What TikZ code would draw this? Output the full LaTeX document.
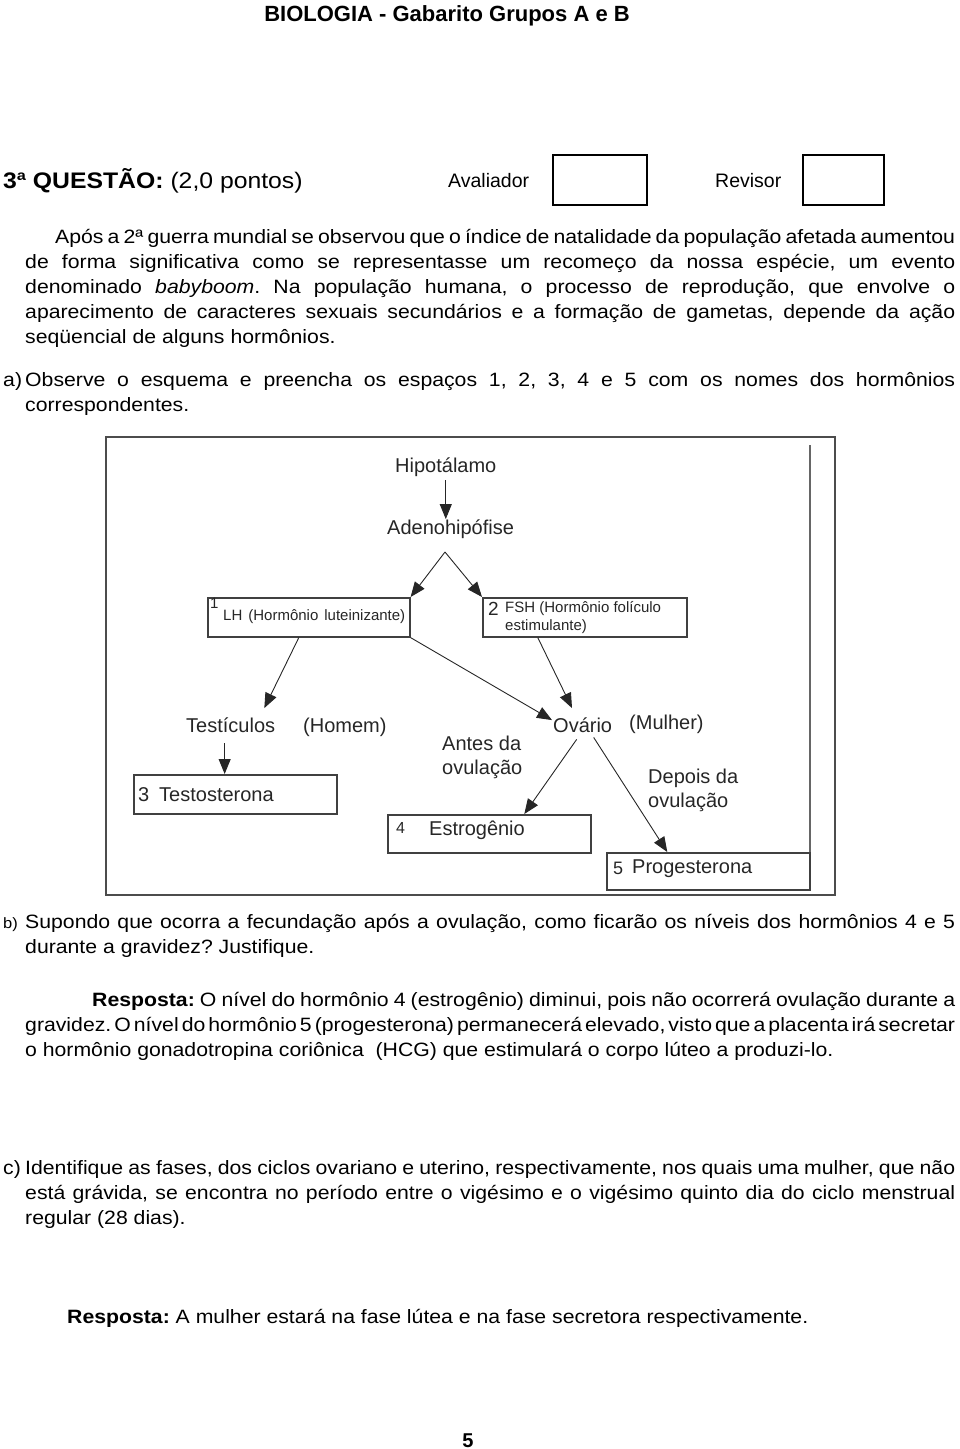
\documentclass[tikz,border=0pt]{standalone}
\usepackage{fontspec}
\setmainfont{Liberation Sans}[FakeStretch=1.1, WordSpace={1,1,2}]
\newfontfamily\plainfont{Liberation Sans}
\usepackage{tikz}
\usetikzlibrary{arrows.meta, positioning}
\tikzstyle{hormarrow} = [line width=0.9pt, black!85, line join=miter, -{Triangle[length=15pt, width=12pt]}]
\tikzstyle{hormbox} = [draw=black!75, line width=1.6pt, inner sep=0pt, anchor=north west]
\tikzstyle{scorebox} = [draw=black, line width=2pt, inner sep=0pt]
\tikzstyle{organ} = [font=\plainfont\fontsize{20}{24}\selectfont, text=black!85, inner sep=0pt, anchor=base west, align=left]
\tikzstyle{small} = [font=\plainfont\fontsize{15}{18}\selectfont, text=black!85, inner sep=0pt, anchor=base west, align=left]
\tikzstyle{para} = [font=\fontsize{19.3}{25}\selectfont, text width=930pt, align=justify, inner sep=0pt, anchor=base west]
\tikzstyle{plain} = [font=\fontsize{19.3}{25}\selectfont, inner sep=0pt, anchor=base west]
\frenchspacing

\begin{document}
\begin{tikzpicture}[x=1pt, y=-1pt]
\useasboundingbox (0,0) rectangle (960,1449);
% header
\node (title) [plain, anchor=base, font=\plainfont\fontsize{22}{26}\selectfont\bfseries] at (447,21) {BIOLOGIA - Gabarito Grupos A e B};
\node (quest) [plain, font=\fontsize{22.5}{26}\selectfont] at (3,188) {\textbf{3ª QUESTÃO:} (2,0 pontos)};
\node (aval) [plain, font=\plainfont\fontsize{19.5}{25}\selectfont] at (448,187) {Avaliador};
\node (avbox) [scorebox, minimum width=94pt, minimum height=50pt] at (600,180) {};
\node (revi) [plain, font=\plainfont\fontsize{19.5}{25}\selectfont] at (715,187) {Revisor};
\node (revbox) [scorebox, minimum width=81pt, minimum height=50pt] at (843.5,180) {};
% statement
\node (intro) [para] at (25,243) {\hspace*{30pt}Após a 2ª guerra mundial se observou que o índice de natalidade da população afetada aumentou\linebreak de forma significativa como se representasse um recomeço da nossa espécie, um evento\linebreak denominado \emph{babyboom}. Na população humana, o processo de reprodução, que envolve o\linebreak aparecimento de caracteres sexuais secundários e a formação de gametas, depende da ação\linebreak seqüencial de alguns hormônios.};
\node (qa) [plain] at (3,386) {a)};
\node (qatext) [para] at (25,386) {Observe o esquema e preencha os espaços 1, 2, 3, 4 e 5 com os nomes dos hormônios\linebreak correspondentes.};
% scheme
\draw [black!70, line width=1.5pt] (106,437) rectangle (835,895);
\draw [black!60, line width=1.2pt] (810,445) -- (810,888);
\node (hipo) [organ] at (395,472) {Hipotálamo};
\node (adeno) [organ] at (387,534) {Adenohipófise};
\coordinate (fork) at (445,552);
\node (box1) [hormbox, minimum width=202pt, minimum height=39pt] at (207,597) {};
\node (box2) [hormbox, minimum width=204pt, minimum height=39pt] at (482,597) {};
\node (n1) [small] at (210,608) {1};
\node (lh) [small] at (223,620) {\spaceskip=6pt\relax LH (Hormônio luteinizante)};
\node (n2) [organ, font=\plainfont\fontsize{19}{22}\selectfont] at (488,615) {2};
\node (fsh) [small] at (505,630) {FSH (Hormônio folículo\\estimulante)};
\node (testic) [organ] at (186,732) {Testículos};
\node (homem) [organ] at (303,732) {(Homem)};
\node (ovario) [organ] at (553,732) {Ovário};
\node (mulher) [organ] at (629,729) {(Mulher)};
\node (antes) [organ] at (442,774) {Antes da\\ovulação};
\node (depois) [organ] at (648,807) {Depois da\\ovulação};
\node (box3) [hormbox, minimum width=203pt, minimum height=39pt] at (133,774) {};
\node (box4) [hormbox, minimum width=203pt, minimum height=38pt] at (387,814) {};
\node (box5) [hormbox, minimum width=203pt, minimum height=37pt] at (606,852) {};
\node (n3) [organ] at (138,801) {3};
\node (testo) [organ] at (159,801) {Testosterona};
\node (n4) [organ, font=\plainfont\fontsize{16}{20}\selectfont] at (396,833) {4};
\node (estro) [organ] at (429,835) {Estrogênio};
\node (n5) [organ, font=\plainfont\fontsize{18}{20}\selectfont] at (613,874) {5};
\node (proge) [organ] at (632,873) {Progesterona};
\draw [hormarrow, shorten <=4pt] (hipo.south) -- (hipo.south |- adeno.north);
\draw [hormarrow] (fork) -- (box1.north east);
\draw [hormarrow] (fork) -- (box2.north west);
\draw [hormarrow] ([xshift=-10pt]box1.south) -- ([shift={(-11,-9)}]testic.north east);
\draw [hormarrow] (box1.south east) -- ([shift={(-1,3)}]ovario.north west);
\draw [hormarrow] ([xshift=-47pt]box2.south) -- ([shift={(19,-9)}]ovario.north west);
\draw [hormarrow] ([shift={(-6,11)}]testic.south) coordinate (t3) -- (t3 |- box3.north);
\draw [hormarrow] ([shift={(-6,7)}]ovario.south) -- ([xshift=35pt]box4.north);
\draw [hormarrow] ([shift={(11,5)}]ovario.south) -- ([xshift=-41pt]box5.north);
% questions b and c
\node (qb) [plain, font=\fontsize{15}{20}\selectfont] at (3,928) {b)};
\node (qbtext) [para] at (25,928) {Supondo que ocorra a fecundação após a ovulação, como ficarão os níveis dos hormônios 4 e 5\linebreak durante a gravidez? Justifique.};
\node (respb) [para] at (25,1006) {\hspace*{67pt}\textbf{Resposta:} O nível do hormônio 4 (estrogênio) diminui, pois não ocorrerá ovulação durante a\linebreak gravidez. O nível do hormônio 5 (progesterona) permanecerá elevado, visto que a placenta irá secretar\linebreak o hormônio gonadotropina coriônica\ \ (HCG) que estimulará o corpo lúteo a produzi-lo.};
\node (qc) [plain] at (3,1174) {c)};
\node (qctext) [para] at (25,1174) {Identifique as fases, dos ciclos ovariano e uterino, respectivamente, nos quais uma mulher, que não\linebreak está grávida, se encontra no período entre o vigésimo e o vigésimo quinto dia do ciclo menstrual\linebreak regular (28 dias).};
\node (respc) [plain] at (67,1323) {\textbf{Resposta:} A mulher estará na fase lútea e na fase secretora respectivamente.};
\node (pagenum) [plain, anchor=base, font=\plainfont\fontsize{20}{24}\selectfont\bfseries] at (468,1447) {5};
\end{tikzpicture}
\end{document}
